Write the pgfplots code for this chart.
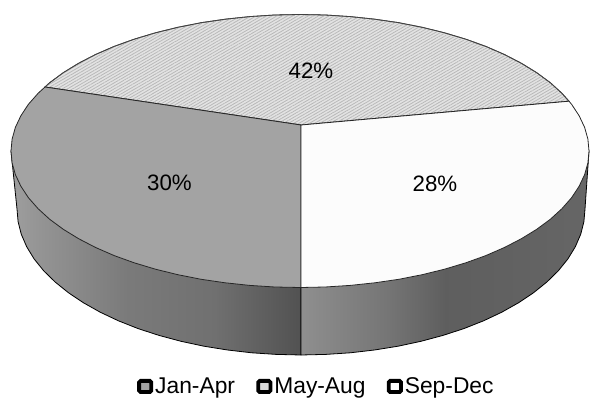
\documentclass[border=0pt]{standalone}
\usepackage{pgfplots}
\pgfplotsset{compat=1.18}
\usepackage{fontspec}
\setmainfont{Liberation Sans}
\usetikzlibrary{patterns.meta}

% Side wall shadings: the visible span of each wall is 25bp to 75bp
\pgfdeclarehorizontalshading{wallJanApr}{100bp}{%
  color(0bp)=(black!38); color(25bp)=(black!38); color(30bp)=(black!42);
  color(45bp)=(black!52); color(60bp)=(black!56); color(75bp)=(black!68);
  color(100bp)=(black!68)}
\pgfdeclarehorizontalshading{wallSepDec}{100bp}{%
  color(0bp)=(black!44); color(25bp)=(black!44); color(40bp)=(black!54);
  color(50bp)=(black!63); color(60bp)=(black!62); color(75bp)=(black!60);
  color(100bp)=(black!60)}

\newcommand{\chartfont}{\fontsize{22.3}{25}\selectfont}
\newcommand{\legendfont}{\fontsize{22.8}{25}\selectfont}

\begin{document}
\begin{tikzpicture}
\begin{axis}[
  scale only axis, width=590pt, height=398pt,
  xmin=0, xmax=590, ymin=0, ymax=398, y dir=reverse,
  hide axis, clip=false,
  legend columns=3,
  legend cell align=left,
  legend style={draw=none, fill=none, font=\legendfont,
    at={(axis cs:137,386.5)}, anchor=west,
    inner xsep=0pt, inner ysep=0pt,
    nodes={inner xsep=2pt, inner ysep=0pt},
    /tikz/every even column/.style={column sep=19.3pt},
    /tikz/every odd column/.style={column sep=0pt}},
]
% Page extent of the chart
\path (axis cs:0,0) rectangle (axis cs:590,398);
% Outer wall of the Jan-Apr slice
\addplot[draw=black, line width=0.8pt, shade, shading=wallJanApr, forget plot] coordinates {
 (11,151) (17,209) (18.1,221.7) (21.3,234.3) (26.7,246.8) (34.1,258.9) (43.6,270.7)
 (55.1,282) (68.4,292.7) (83.5,302.8) (100.2,312.2) (118.4,320.8) (138.1,328.6)
 (159,335.4) (181,341.3) (203.9,346.2) (227.5,350) (251.7,352.8) (276.2,354.4)
 (301,355) (301,287.5)} --cycle;
% Outer wall of the Sep-Dec slice
\addplot[draw=black, line width=0.8pt, shade, shading=wallSepDec, forget plot] coordinates {
 (301,287.5) (301,355) (325.8,354.4) (350.3,352.8) (374.5,350) (398.1,346.2) (421,341.3)
 (443,335.4) (463.9,328.6) (483.6,320.8) (501.8,312.2) (518.5,302.8) (533.6,292.7)
 (546.9,282) (558.4,270.7) (567.9,258.9) (575.3,246.8) (580.7,234.3) (583.9,221.7)
 (585,209) (589,151)} --cycle;
% Top face, May-Aug 42%
\addplot[draw=black!75, line width=0.8pt, fill=black!11, forget plot,
  postaction={pattern={Lines[angle=30,distance=2.6pt,line width=0.8pt]},pattern color=black!28}] coordinates {
 (301,125) (569,101.2) (561.9,93.3) (550.3,82.7) (536.7,72.7) (521.4,63.3) (504.4,54.5)
 (485.8,46.4) (465.8,39.2) (444.5,32.8) (422.1,27.3) (398.8,22.7) (374.8,19.2) (350.2,16.6)
 (325.2,15) (300,14.5) (274.8,15) (249.8,16.6) (225.2,19.2) (201.2,22.7) (177.9,27.3)
 (155.5,32.8) (134.2,39.2) (114.2,46.4) (95.6,54.5) (78.6,63.3) (63.3,72.7) (49.7,82.7)
 (45,87)} --cycle;
% Top face, Jan-Apr 30%
\addplot[draw=black!85, line width=0.8pt, fill=black!36, forget plot] coordinates {
 (301,125) (45,87) (38.1,93.3) (28.4,104.3) (20.9,115.7) (15.4,127.3) (12.1,139.1) (11,151)
 (12.1,162.9) (15.4,174.7) (20.9,186.3) (28.4,197.7) (38.1,208.7) (49.7,219.3) (63.3,229.3)
 (78.6,238.7) (95.6,247.5) (114.2,255.6) (134.2,262.8) (155.5,269.2) (177.9,274.7)
 (201.2,279.3) (225.2,282.8) (249.8,285.4) (274.8,287) (300,287.5) (301,287.5)} --cycle;
% Top face, Sep-Dec 28%
\addplot[draw=black!85, line width=0.8pt, fill=black!1, forget plot] coordinates {
 (301,125) (301,287.5) (325.2,287) (350.2,285.4) (374.8,282.8) (398.8,279.3) (422.1,274.7)
 (444.5,269.2) (465.8,262.8) (485.8,255.6) (504.4,247.5) (521.4,238.7) (536.7,229.3)
 (550.3,219.3) (561.9,208.7) (571.6,197.7) (579.1,186.3) (584.6,174.7) (587.9,162.9)
 (589,151) (587.9,139.1) (584.6,127.3) (579.1,115.7) (571.6,104.3) (569,101.2)} --cycle;

\node[font=\chartfont] at (axis cs:169.5,182.5) {30\%};
\node[font=\chartfont] at (axis cs:311,70.5) {42\%};
\node[font=\chartfont] at (axis cs:435,183.5) {28\%};

\addlegendimage{legend image code/.code={
  \draw[black, line width=3.8pt, rounded corners=1.5pt, fill=black!36] (0pt,-5.6pt) rectangle (12.2pt,5.6pt);}}
\addlegendentry{Jan-Apr}
\addlegendimage{legend image code/.code={
  \draw[black, line width=3.8pt, rounded corners=1.5pt, fill=black!15] (0pt,-5.6pt) rectangle (12.2pt,5.6pt);}}
\addlegendentry{May-Aug}
\addlegendimage{legend image code/.code={
  \draw[black, line width=3.8pt, rounded corners=1.5pt, fill=white] (0pt,-5.6pt) rectangle (12.2pt,5.6pt);}}
\addlegendentry{Sep-Dec}
\end{axis}
\end{tikzpicture}
\end{document}
